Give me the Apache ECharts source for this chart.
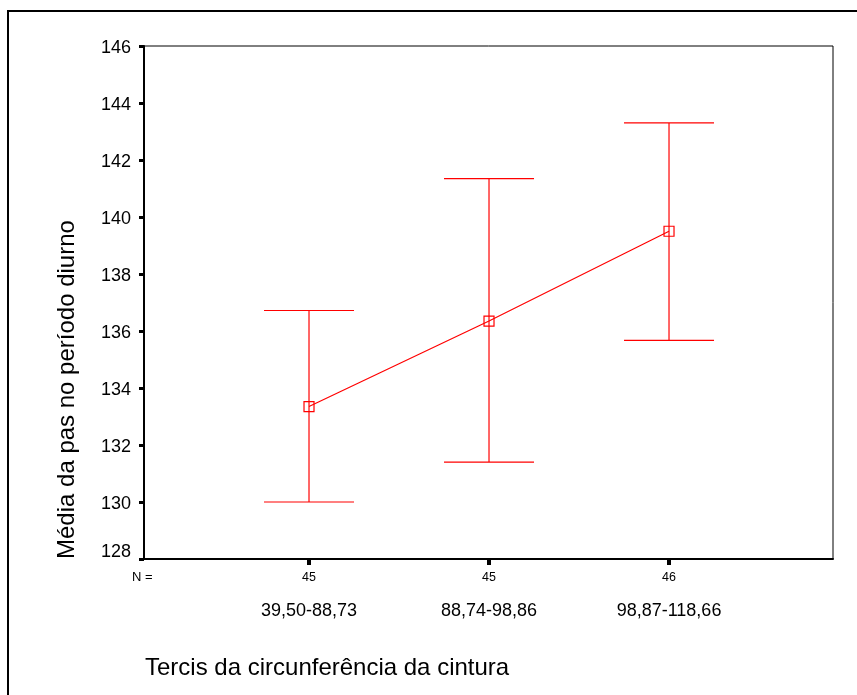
<!DOCTYPE html>
<html>
<head>
<meta charset="utf-8">
<script src="https://cdn.jsdelivr.net/npm/echarts@6/dist/echarts.min.js"></script>
<style>
  html, body { margin: 0; padding: 0; background: #fff; }
  #chart { width: 857px; height: 695px; }
</style>
</head>
<body>
<div id="chart"></div>
<script>
// dados
var categories = ["39,50-88,73", "88,74-98,86", "98,87-118,66"];
var nLabels = ["45", "45", "46"];
var means = [133.35, 136.35, 139.5];
var lower = [130.0, 131.4, 135.67];
var upper = [136.72, 141.35, 143.3];

var positions = [0, 1, 2];
var font = "Liberation Sans, Arial, sans-serif";

var lineData = positions.map(function (p, i) { return [p, means[i]]; });
var barData = positions.map(function (p, i) { return [p, lower[i], upper[i]]; });

var chart = echarts.init(document.getElementById("chart"));

var option = {
  animation: false,
  backgroundColor: "#fff",
  grid: {
    left: 144, top: 46, right: 24, bottom: 136,
    show: true, borderColor: "#000", borderWidth: 1
  },
  xAxis: [
    {
      type: "value", min: -0.9167, max: 2.911,
      axisLine: { show: true, onZero: false, lineStyle: { color: "#000", width: 2 } },
      axisTick: { show: true, customValues: positions, length: 6, lineStyle: { color: "#000", width: 4 } },
      axisLabel: {
        customValues: positions, color: "#000", fontSize: 12.5, fontFamily: font, margin: 12,
        formatter: function (v) { return nLabels[Math.round(v)]; }
      },
      splitLine: { show: false }
    },
    {
      type: "value", min: -0.9167, max: 2.911, position: "bottom", offset: 35,
      axisLine: { show: false }, axisTick: { show: false },
      axisLabel: {
        customValues: positions, color: "#000", fontSize: 18, fontFamily: font, margin: 8,
        formatter: function (v) { return categories[Math.round(v)]; }
      },
      splitLine: { show: false }
    }
  ],
  yAxis: {
    type: "value", min: 128, max: 146, interval: 2,
    axisLine: { show: true, onZero: false, lineStyle: { color: "#000", width: 2 } },
    axisTick: { show: true, length: 5, lineStyle: { color: "#000", width: 3 } },
    axisLabel: {
      color: "#000", fontSize: 18, fontFamily: font, margin: 13,
      // o rótulo mais baixo fica apoiado sobre o eixo x
      formatter: function (v) { return v === 128 ? "{low|" + v + "}" : "{n|" + v + "}"; },
      rich: {
        n: { fontSize: 18, fontFamily: font, color: "#000", padding: [4, 0, 0, 0] },
        low: { fontSize: 18, fontFamily: font, color: "#000", padding: [0, 0, 14, 0] }
      }
    },
    splitLine: { show: false }
  },
  graphic: [
    {
      type: "rect", silent: true, z: -1,
      shape: { x: 8, y: 11, width: 900, height: 800 },
      style: { fill: "none", stroke: "#000", lineWidth: 2 }
    },
    {
      type: "text", left: 132, top: 571,
      style: { text: "N =", fill: "#000", font: "13px " + font }
    },
    {
      type: "text", left: 145, top: 656,
      style: { text: "Tercis da circunferência da cintura", fill: "#000", font: "24px " + font }
    },
    {
      // título do eixo y, alinhado no início do eixo (como no SPSS)
      type: "text", x: 67.5, y: 559, rotation: Math.PI / 2,
      style: {
        text: "Média da pas no período diurno", fill: "#000", font: "24px " + font,
        align: "left", verticalAlign: "middle"
      }
    }
  ],
  series: [
    {
      type: "custom",
      data: barData,
      renderItem: function (params, api) {
        var x = api.value(0);
        var lo = api.coord([x, api.value(1)]);
        var hi = api.coord([x, api.value(2)]);
        var half = api.size([0.25, 0])[0];
        var st = { stroke: "#ff0000", lineWidth: 1.2 };
        return {
          type: "group",
          children: [
            { type: "line", shape: { x1: lo[0], y1: lo[1], x2: hi[0], y2: hi[1] }, style: st },
            { type: "line", shape: { x1: lo[0] - half, y1: lo[1], x2: lo[0] + half, y2: lo[1] }, style: st },
            { type: "line", shape: { x1: hi[0] - half, y1: hi[1], x2: hi[0] + half, y2: hi[1] }, style: st }
          ]
        };
      }
    },
    {
      type: "line",
      data: lineData,
      symbol: "rect", symbolSize: 10,
      showAllSymbol: true,
      lineStyle: { color: "#ff0000", width: 1.2 },
      itemStyle: { color: "rgba(0,0,0,0)", borderColor: "#ff0000", borderWidth: 1.2 },
      emphasis: { disabled: true },
      z: 3
    }
  ]
};

chart.setOption(option);
</script>
</body>
</html>
